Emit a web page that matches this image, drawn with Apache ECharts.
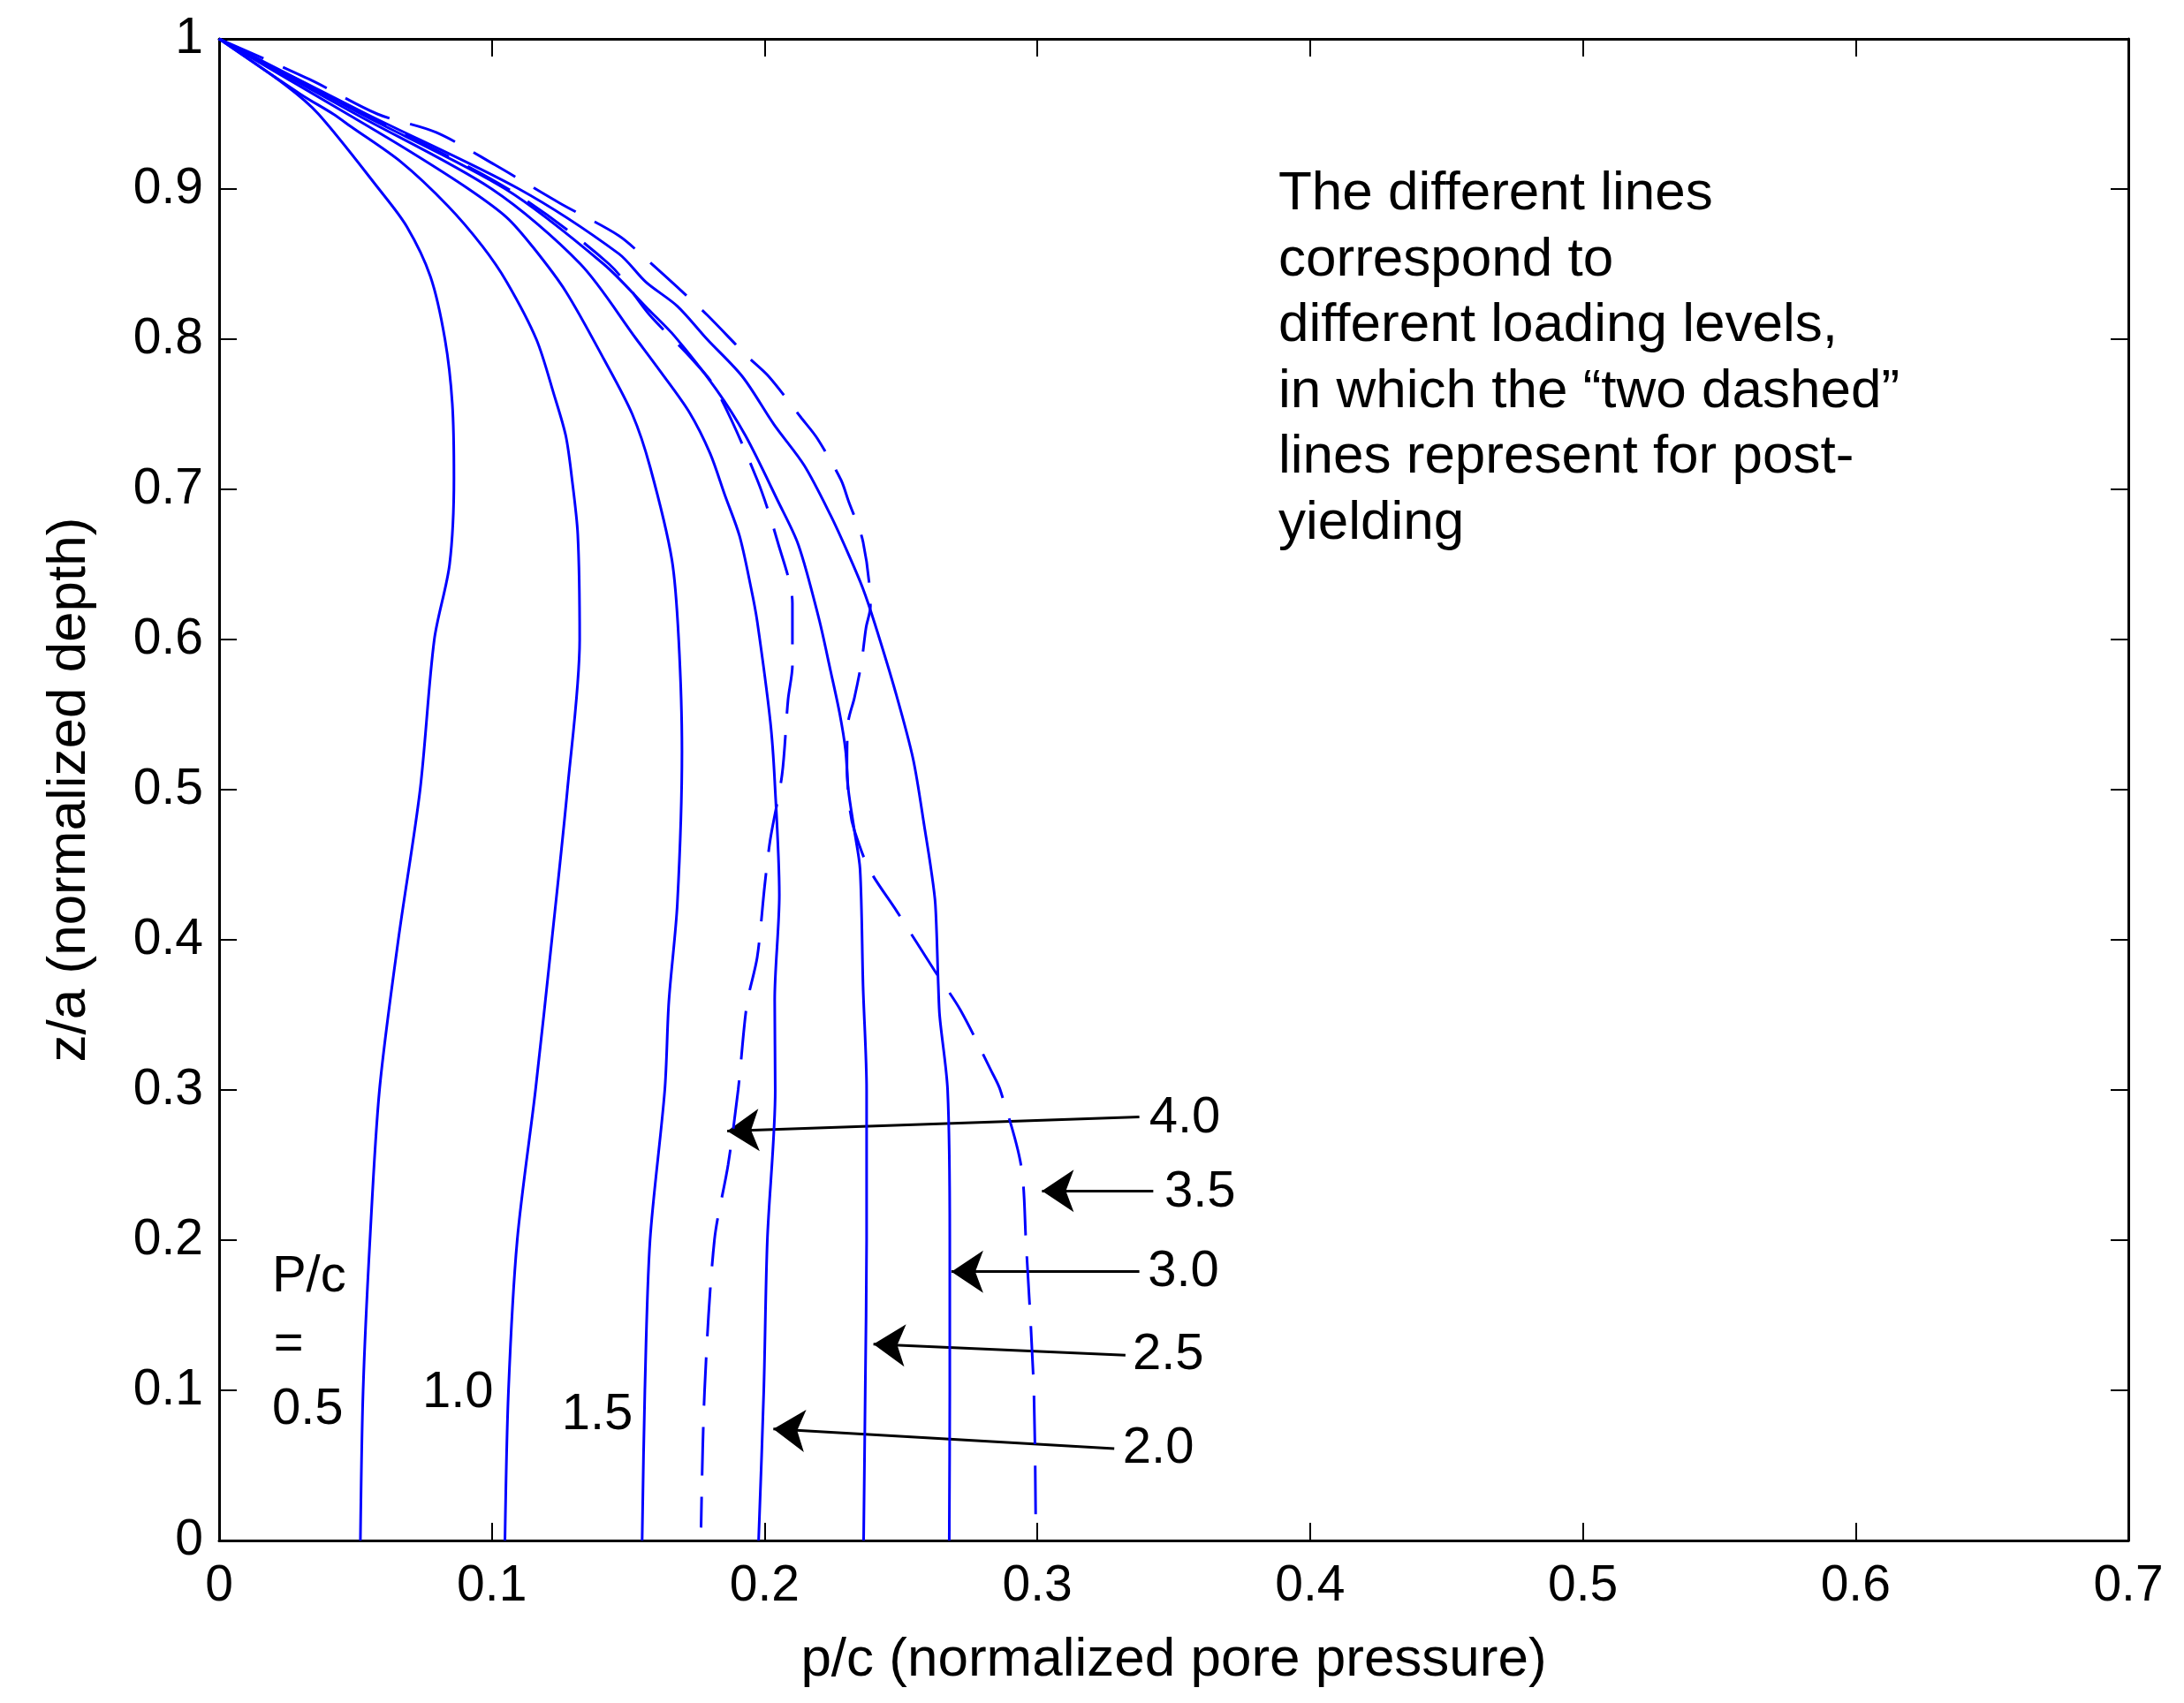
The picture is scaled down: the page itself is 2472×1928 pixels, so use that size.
<!DOCTYPE html>
<html>
<head>
<meta charset="utf-8">
<script src="https://cdn.jsdelivr.net/npm/echarts@6/dist/echarts.min.js"></script>
<style>
  html, body { margin: 0; padding: 0; background: #fff; }
  #chart { width: 2472px; height: 1928px; }
</style>
</head>
<body>
<div id="chart"></div>
<script>
// [p/c, z/a] pairs for each loading level P/c
const curve05 = [[0,1],[0.0245,0.969],[0.0364,0.95],[0.0586,0.9],[0.0688,0.875],[0.0775,0.8416],[0.0828,0.8],[0.0855,0.757],[0.0861,0.708],[0.0845,0.65],[0.0789,0.6],[0.0737,0.5],[0.0657,0.4],[0.0588,0.3],[0.0553,0.2],[0.0528,0.1],[0.0518,0]];
const curve10 = [[0,1],[0.03,0.963],[0.0418,0.95],[0.0483,0.9416],[0.0667,0.918],[0.0839,0.8887],[0.0965,0.862],[0.1055,0.838],[0.1163,0.8],[0.1228,0.763],[0.1271,0.7357],[0.1293,0.708],[0.1315,0.67],[0.1322,0.6],[0.1277,0.5],[0.122,0.4],[0.116,0.3],[0.1093,0.2],[0.1061,0.1],[0.1048,0]];
const curve15 = [[0,1],[0.047,0.95],[0.07,0.925],[0.0915,0.9],[0.1055,0.881],[0.1152,0.861],[0.1271,0.8318],[0.1411,0.7866],[0.1515,0.75],[0.158,0.715],[0.166,0.6533],[0.1685,0.6],[0.1697,0.5258],[0.168,0.4238],[0.1649,0.359],[0.1634,0.3],[0.158,0.2],[0.1561,0.1],[0.1551,0]];
const curve20 = [[0,1],[0.05,0.95],[0.1,0.9],[0.1325,0.85],[0.153,0.8],[0.162,0.778],[0.1724,0.7513],[0.18,0.724],[0.1854,0.6963],[0.1908,0.669],[0.1951,0.6337],[0.1973,0.612],[0.2021,0.5454],[0.2037,0.506],[0.2054,0.43],[0.2037,0.36],[0.2039,0.3],[0.201,0.2],[0.1997,0.1],[0.1978,0]];
const curve25 = [[0,1],[0.052,0.95],[0.105,0.9],[0.141,0.85],[0.1573,0.82],[0.167,0.802],[0.1821,0.767],[0.193,0.7357],[0.2048,0.6925],[0.2124,0.663],[0.2199,0.614],[0.2242,0.579],[0.2275,0.551],[0.2297,0.526],[0.2307,0.5],[0.2329,0.473],[0.235,0.447],[0.2361,0.369],[0.2374,0.3],[0.2374,0.2],[0.2369,0.1],[0.2363,0]];
const curve30 = [[0,1],[0.054,0.95],[0.11,0.9],[0.1465,0.857],[0.1565,0.838],[0.168,0.822],[0.1789,0.8],[0.1919,0.775],[0.2035,0.743],[0.2145,0.716],[0.2242,0.6827],[0.2307,0.657],[0.2361,0.6337],[0.2405,0.61],[0.248,0.565],[0.2545,0.52],[0.2588,0.4729],[0.261,0.4473],[0.2626,0.4238],[0.2637,0.369],[0.2642,0.349],[0.2671,0.3],[0.2679,0.2],[0.2679,0.1],[0.2677,0]];
// post-yielding levels (dashed)
const curve35 = [[0,1],[0.0332,0.973],[0.058,0.95],[0.0796,0.9377],[0.1012,0.916],[0.1249,0.8906],[0.1465,0.869],[0.1562,0.854],[0.1714,0.829],[0.179,0.816],[0.194,0.788],[0.2016,0.775],[0.2135,0.7475],[0.2194,0.7337],[0.228,0.7063],[0.2307,0.6925],[0.2361,0.665],[0.2388,0.622],[0.2372,0.608],[0.2355,0.5845],[0.2329,0.561],[0.2307,0.5454],[0.2302,0.516],[0.2313,0.4866],[0.2329,0.4729],[0.2383,0.4473],[0.2485,0.4189],[0.2626,0.3787],[0.2718,0.3532],[0.2833,0.312],[0.2864,0.3],[0.294,0.25],[0.2958,0.2],[0.2987,0.1],[0.2994,0.01]];
const curve40 = [[0,1],[0.053,0.95],[0.106,0.9],[0.143,0.85],[0.1579,0.816],[0.1724,0.7887],[0.1821,0.767],[0.1973,0.7063],[0.2048,0.665],[0.2102,0.624],[0.2102,0.583],[0.2086,0.56],[0.2064,0.51],[0.2021,0.467],[0.2,0.4356],[0.1973,0.3885],[0.1935,0.357],[0.1903,0.3],[0.1866,0.25],[0.1816,0.2],[0.178,0.1],[0.1767,0.0086]];

// arrow labels: which level, where the label sits, where the arrow points
const arrowLevels = ['4.0', '3.5', '3.0', '2.5', '2.0'];
const arrowLabelAt = [[0.341,0.281],[0.3466,0.232],[0.3405,0.179],[0.3349,0.1234],[0.3313,0.0612]];
const arrowFrom = [[0.3374,0.282],[0.3425,0.2328],[0.3374,0.179],[0.3323,0.1234],[0.3282,0.0612]];
const arrowTo = [[0.1863,0.2727],[0.3017,0.2328],[0.2685,0.179],[0.2399,0.1308],[0.2032,0.0742]];

// P/c = 0.5, 1.0, 1.5 labels in the lower left
const levelText = ['P/c', '=', '0.5', '1.0', '1.5'];
const levelTextAt = [[0.0194,0.1753],[0.02,0.13],[0.0194,0.0872],[0.0745,0.0983],[0.1256,0.0835]];

const noteLines = [
  'The different lines',
  'correspond to',
  'different loading levels,',
  'in which the \u201ctwo dashed\u201d',
  'lines represent for post-',
  'yielding'
];

const FONT = '"Liberation Sans", Arial, Helvetica, sans-serif';
const BLUE = '#0000ff';

var chart = echarts.init(document.getElementById('chart'));

function curve(data, dashed) {
  return {
    type: 'line',
    data: data,
    showSymbol: false,
    symbol: 'none',
    smooth: 0.3,
    silent: true,
    lineStyle: {color: BLUE, width: 3, type: dashed ? [55, 24] : 'solid'}
  };
}

var axisLine = {show: true, onZero: false, lineStyle: {color: '#000', width: 3}};
var axisTick = {show: true, inside: true, length: 20, lineStyle: {color: '#000', width: 2}};

var labelData = [];
arrowLevels.forEach(function (t, i) {
  labelData.push({name: t, value: arrowLabelAt[i]});
});
levelText.forEach(function (t, i) {
  labelData.push({name: t, value: levelTextAt[i]});
});

var option = {
  animation: false,
  backgroundColor: '#fff',
  grid: {left: 248, right: 63, top: 44, bottom: 184},
  xAxis: [{
    type: 'value', min: 0, max: 0.7, interval: 0.1, position: 'bottom',
    axisLine: axisLine, axisTick: axisTick, splitLine: {show: false},
    axisLabel: {margin: 24, fontSize: 57, color: '#000', fontFamily: FONT},
    name: 'p/c (normalized pore pressure)', nameLocation: 'middle', nameGap: 105,
    nameTextStyle: {fontSize: 62, color: '#000', fontFamily: FONT}
  }, {
    type: 'value', min: 0, max: 0.7, interval: 0.1, position: 'top',
    axisLine: axisLine, axisTick: axisTick, splitLine: {show: false},
    axisLabel: {show: false}
  }],
  yAxis: [{
    type: 'value', min: 0, max: 1, interval: 0.1, position: 'left',
    axisLine: axisLine, axisTick: axisTick, splitLine: {show: false},
    axisLabel: {margin: 18, fontSize: 57, color: '#000', fontFamily: FONT},
    name: 'z/a (normalized depth)', nameLocation: 'middle', nameGap: 138, nameRotate: 90,
    nameTextStyle: {fontSize: 62, color: '#000', fontFamily: FONT}
  }, {
    type: 'value', min: 0, max: 1, interval: 0.1, position: 'right',
    axisLine: axisLine, axisTick: axisTick, splitLine: {show: false},
    axisLabel: {show: false}
  }],
  series: [
    curve(curve05, false),
    curve(curve10, false),
    curve(curve15, false),
    curve(curve20, false),
    curve(curve25, false),
    curve(curve30, false),
    curve(curve35, true),
    curve(curve40, true),
    {
      type: 'lines',
      coordinateSystem: 'cartesian2d',
      silent: true,
      symbol: ['none', 'arrow'],
      symbolSize: 36,
      lineStyle: {color: '#000', width: 3, opacity: 1},
      data: arrowFrom.map(function (p, i) { return {coords: [p, arrowTo[i]]}; })
    },
    {
      type: 'scatter',
      silent: true,
      symbolSize: 0,
      itemStyle: {opacity: 1},
      data: labelData,
      label: {
        show: true, position: 'right', distance: 0, formatter: '{b}',
        fontSize: 58, color: '#000', opacity: 1, fontFamily: FONT
      }
    }
  ],
  graphic: [{
    type: 'text',
    left: 1447,
    top: 183,
    silent: true,
    style: {
      text: noteLines.join('\n'),
      font: '62px ' + FONT,
      lineHeight: 74.5,
      fill: '#000'
    }
  }]
};

chart.setOption(option);
</script>
</body>
</html>
